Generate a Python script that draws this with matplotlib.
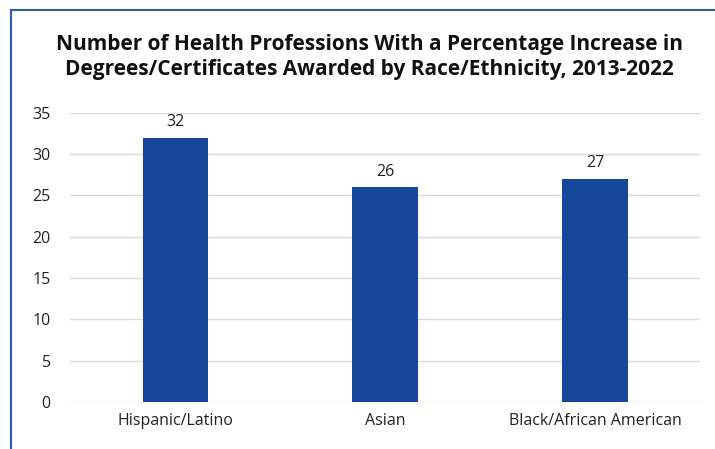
import matplotlib
matplotlib.use("Agg")
import matplotlib.pyplot as plt
from matplotlib.lines import Line2D

categories = ["Hispanic/Latino", "Asian", "Black/African American"]
values = [32, 26, 27]
yticks = [0, 5, 10, 15, 20, 25, 30, 35]
title = ("Number of Health Professions With a Percentage Increase in\n"
         "Degrees/Certificates Awarded by Race/Ethnicity, 2013-2022")

plt.rcParams['font.family'] = ['Open Sans', 'DejaVu Sans']

fig = plt.figure(figsize=(7.15, 4.49), dpi=100)
ax = fig.add_axes([0.098, 0.1047, 0.881, 0.644])

x = range(len(categories))
bars = ax.bar(x, values, width=0.31, color="#16479A", zorder=3)
for b, v in zip(bars, values):
    ax.text(b.get_x() + b.get_width() / 2, v + 0.9, str(v), ha="center", va="bottom",
            fontsize=11.5, color="#222222")

ax.set_xlim(-0.5, len(categories) - 0.5)
ax.set_ylim(0, 35)
ax.set_yticks(yticks)
ax.set_xticks(list(x))
ax.set_xticklabels(categories)
ax.grid(axis="y", color="#d9d9d9", linewidth=1, zorder=0)
for s in ax.spines.values():
    s.set_visible(False)
ax.tick_params(length=0, labelsize=11.5, labelcolor="#222222")
ax.tick_params(axis="y", pad=14)
ax.tick_params(axis="x", pad=8)

fig.text(0.517, 0.872, title, ha="center", va="center", fontsize=15,
         fontweight="bold", color="#111111", linespacing=1.25)

# frame lines top and left
fig.add_artist(Line2D([11 / 715, 1], [1 - 10 / 449, 1 - 10 / 449], color="#2a5caa", lw=1.5))
fig.add_artist(Line2D([11 / 715, 11 / 715], [0, 1 - 10 / 449], color="#2a5caa", lw=1.5))

fig.savefig("out.png", dpi=100)
